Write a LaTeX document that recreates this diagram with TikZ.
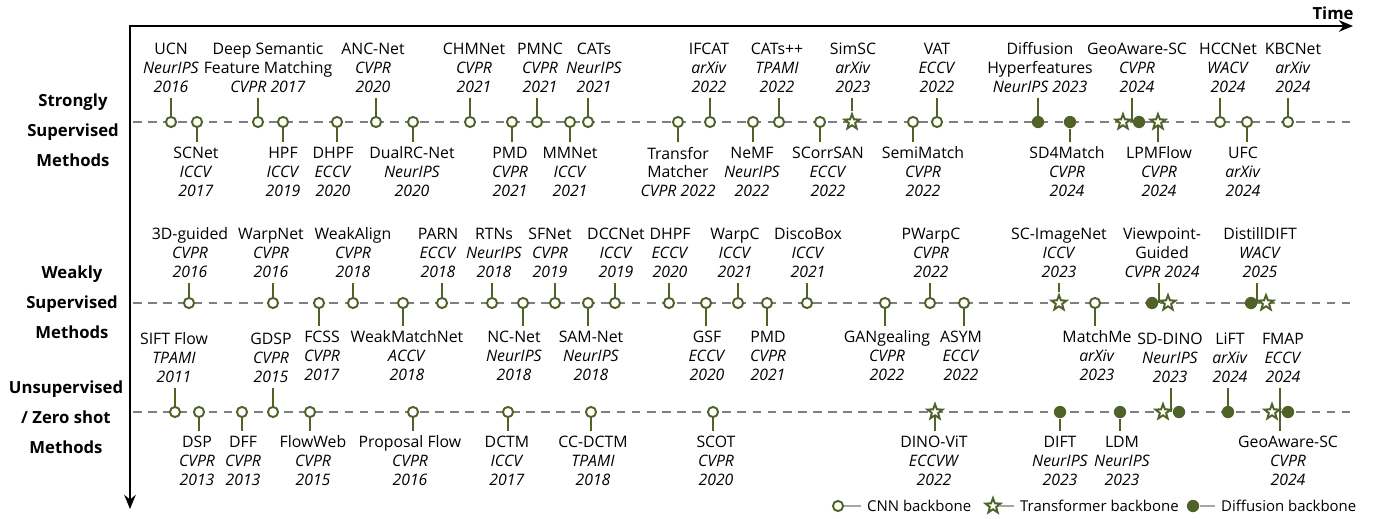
\documentclass[tikz,border=0pt]{standalone}
\usepackage{fontspec}
\setmainfont{Open Sans}
\usepackage{tikz}
\usetikzlibrary{shapes.geometric,arrows.meta,backgrounds}
\definecolor{mkgreen}{HTML}{4F6228}
\definecolor{dashgray}{HTML}{7F7F7F}
\definecolor{leggray}{HTML}{A6A6A6}
\newcommand{\lblfont}{\fontsize{9}{10.8}\selectfont}

\begin{document}
\begin{tikzpicture}[x=0.02cm, y=-0.02cm, >={Stealth[length=8pt,width=6.5pt]},
  timeaxis/.style={line width=1.6pt},
  rowline/.style={dashgray, line width=1.1pt, dash pattern=on 5pt off 3.6pt},
  stem/.style={mkgreen, line width=1.1pt},
  cnnmark/.style={circle, draw=mkgreen, fill=white, line width=1.1pt, inner sep=0pt, minimum size=5.8pt},
  diffmark/.style={circle, fill=mkgreen, inner sep=0pt, minimum size=7pt},
  transmark/.style={star, star points=5, star point ratio=2.4, draw=mkgreen, fill=white, line width=1.1pt, inner sep=0pt, minimum size=9pt},
  tlbl/.style={anchor=south, align=center, inner sep=0pt, outer sep=2.8pt, font=\lblfont},
  blbl/.style={anchor=north, align=center, inner sep=0pt, outer sep=2.8pt, font=\lblfont},
  rowlbl/.style={align=center, font=\bfseries\fontsize{9.5}{17}\selectfont},
  legline/.style={leggray, line width=1.1pt},
  legtxt/.style={anchor=west, font=\fontsize{8.5}{10}\selectfont}]
  \useasboundingbox (0,0) rectangle (1380,518);

  % Axes
  \coordinate (origin) at (130,26);
  \coordinate (tend) at (1353,26);
  \coordinate (vend) at (130,509);
  \draw[timeaxis, <->] (tend) -- (origin) -- (vend);
  \node[font=\bfseries\fontsize{9.5}{11}\selectfont] (time) at (1333,13) {Time};

  \node[rowlbl] (r1lbl) at (73,130) {Strongly\\Supervised\\Methods};
  \node[rowlbl] (r2lbl) at (72,302) {Weakly\\Supervised\\Methods};
  \node[rowlbl] (r3lbl) at (66,417) {Unsupervised\\/ Zero shot\\Methods};

  \coordinate (r1a) at (133,122); \coordinate (r1b) at (1350,122);
  \coordinate (r2a) at (133,303); \coordinate (r2b) at (1350,303);
  \coordinate (r3a) at (133,412); \coordinate (r3b) at (1350,412);

  % Strongly supervised, above the line
  \node[cnnmark] (ucn) at (171,122) {};
  \node[tlbl] (ucn-l) at (171,98) {UCN\\\textit{NeurIPS}\\\textit{2016}};
  \node[cnnmark] (dsfm) at (258,122) {};
  \node[tlbl] (dsfm-l) at (268,98) {Deep Semantic\\Feature Matching\\\textit{CVPR 2017}};
  \node[cnnmark] (ancnet) at (376,122) {};
  \node[tlbl] (ancnet-l) at (373,98) {ANC-Net\\\textit{CVPR}\\\textit{2020}};
  \node[cnnmark] (chmnet) at (470,122) {};
  \node[tlbl] (chmnet-l) at (474,98) {CHMNet\\\textit{CVPR}\\\textit{2021}};
  \node[cnnmark] (pmnc) at (537,122) {};
  \node[tlbl] (pmnc-l) at (540,98) {PMNC\\\textit{CVPR}\\\textit{2021}};
  \node[cnnmark] (cats) at (588,122) {};
  \node[tlbl] (cats-l) at (594,98) {CATs\\\textit{NeurIPS}\\\textit{2021}};
  \node[cnnmark] (ifcat) at (710,122) {};
  \node[tlbl] (ifcat-l) at (709,98) {IFCAT\\\textit{arXiv}\\\textit{2022}};
  \node[cnnmark] (catspp) at (779,122) {};
  \node[tlbl] (catspp-l) at (777,98) {CATs++\\\textit{TPAMI}\\\textit{2022}};
  \node[transmark] (simsc) at (852,122) {};
  \node[tlbl] (simsc-l) at (853,98) {SimSC\\\textit{arXiv}\\\textit{2023}};
  \node[cnnmark] (vat) at (937,122) {};
  \node[tlbl] (vat-l) at (937,98) {VAT\\\textit{ECCV}\\\textit{2022}};
  \node[diffmark] (diffhf) at (1038,122) {};
  \node[tlbl] (diffhf-l) at (1040,98) {Diffusion\\Hyperfeatures\\\textit{NeurIPS 2023}};
  \coordinate (geo) at (1132,122);
  \node[transmark] (geo-s) at (1123,122) {};
  \node[diffmark] (geo-d) at (1139,122) {};
  \node[tlbl] (geo-l) at (1137,98) {GeoAware-SC\\\textit{CVPR}\\\textit{2024}};
  \node[cnnmark] (hccnet) at (1220,122) {};
  \node[tlbl] (hccnet-l) at (1228,98) {HCCNet\\\textit{WACV}\\\textit{2024}};
  \node[cnnmark] (kbcnet) at (1288,122) {};
  \node[tlbl] (kbcnet-l) at (1293,98) {KBCNet\\\textit{arXiv}\\\textit{2024}};

  % Strongly supervised, below the line
  \node[cnnmark] (scnet) at (197,122) {};
  \node[blbl] (scnet-l) at (196,142) {SCNet\\\textit{ICCV}\\\textit{2017}};
  \node[cnnmark] (hpf) at (283,122) {};
  \node[blbl] (hpf-l) at (283,142) {HPF\\\textit{ICCV}\\\textit{2019}};
  \node[cnnmark] (dhpf) at (337,122) {};
  \node[blbl] (dhpf-l) at (333,142) {DHPF\\\textit{ECCV}\\\textit{2020}};
  \node[cnnmark] (dualrc) at (413,122) {};
  \node[blbl] (dualrc-l) at (412,142) {DualRC-Net\\\textit{NeurIPS}\\\textit{2020}};
  \node[cnnmark] (pmd) at (512,122) {};
  \node[blbl] (pmd-l) at (510,142) {PMD\\\textit{CVPR}\\\textit{2021}};
  \node[cnnmark] (mmnet) at (570,122) {};
  \node[blbl] (mmnet-l) at (570,142) {MMNet\\\textit{ICCV}\\\textit{2021}};
  \node[cnnmark] (transm) at (678,122) {};
  \node[blbl] (transm-l) at (678,142) {Transfor\\Matcher\\\textit{CVPR 2022}};
  \node[cnnmark] (nemf) at (753,122) {};
  \node[blbl] (nemf-l) at (752,142) {NeMF\\\textit{NeurIPS}\\\textit{2022}};
  \node[cnnmark] (scorrsan) at (820,122) {};
  \node[blbl] (scorrsan-l) at (828,142) {SCorrSAN\\\textit{ECCV}\\\textit{2022}};
  \node[cnnmark] (semimatch) at (913,122) {};
  \node[blbl] (semimatch-l) at (923,142) {SemiMatch\\\textit{CVPR}\\\textit{2022}};
  \node[diffmark] (sdmatch) at (1070,122) {};
  \node[blbl] (sdmatch-l) at (1067,142) {SD4Match\\\textit{CVPR}\\\textit{2024}};
  \node[transmark] (lpmflow) at (1158,122) {};
  \node[blbl] (lpmflow-l) at (1159,142) {LPMFlow\\\textit{CVPR}\\\textit{2024}};
  \node[cnnmark] (ufc) at (1247,122) {};
  \node[blbl] (ufc-l) at (1243,142) {UFC\\\textit{arXiv}\\\textit{2024}};

  % Weakly supervised, above the line
  \node[cnnmark] (guided) at (189,303) {};
  \node[tlbl] (guided-l) at (190,283) {3D-guided\\\textit{CVPR}\\\textit{2016}};
  \node[cnnmark] (warpnet) at (273,303) {};
  \node[tlbl] (warpnet-l) at (271,283) {WarpNet\\\textit{CVPR}\\\textit{2016}};
  \node[cnnmark] (weakalign) at (353,303) {};
  \node[tlbl] (weakalign-l) at (353,283) {WeakAlign\\\textit{CVPR}\\\textit{2018}};
  \node[cnnmark] (parn) at (442,303) {};
  \node[tlbl] (parn-l) at (438,283) {PARN\\\textit{ECCV}\\\textit{2018}};
  \node[cnnmark] (rtns) at (492,303) {};
  \node[tlbl] (rtns-l) at (494,283) {RTNs\\\textit{NeurIPS}\\\textit{2018}};
  \node[cnnmark] (sfnet) at (555,303) {};
  \node[tlbl] (sfnet-l) at (550,283) {SFNet\\\textit{CVPR}\\\textit{2019}};
  \node[cnnmark] (dccnet) at (615,303) {};
  \node[tlbl] (dccnet-l) at (616,283) {DCCNet\\\textit{ICCV}\\\textit{2019}};
  \node[cnnmark] (dhpfw) at (669,303) {};
  \node[tlbl] (dhpfw-l) at (670,283) {DHPF\\\textit{ECCV}\\\textit{2020}};
  \node[cnnmark] (warpc) at (738,303) {};
  \node[tlbl] (warpc-l) at (735,283) {WarpC\\\textit{ICCV}\\\textit{2021}};
  \node[cnnmark] (discobox) at (807,303) {};
  \node[tlbl] (discobox-l) at (808,283) {DiscoBox\\\textit{ICCV}\\\textit{2021}};
  \node[cnnmark] (pwarpc) at (930,303) {};
  \node[tlbl] (pwarpc-l) at (931,283) {PWarpC\\\textit{CVPR}\\\textit{2022}};
  \node[transmark] (scimg) at (1059,303) {};
  \node[tlbl] (scimg-l) at (1059,283) {SC-ImageNet\\\textit{ICCV}\\\textit{2023}};
  \coordinate (viewpt) at (1159,303);
  \node[diffmark] (viewpt-d) at (1152,303) {};
  \node[transmark] (viewpt-s) at (1168,303) {};
  \node[tlbl] (viewpt-l) at (1162,283) {Viewpoint-\\Guided\\\textit{CVPR 2024}};
  \coordinate (distill) at (1257,303);
  \node[diffmark] (distill-d) at (1251,303) {};
  \node[transmark] (distill-s) at (1266,303) {};
  \node[tlbl] (distill-l) at (1260,283) {DistillDIFT\\\textit{WACV}\\\textit{2025}};

  % Weakly supervised, below the line
  \node[cnnmark] (fcss) at (319,303) {};
  \node[blbl] (fcss-l) at (322,326) {FCSS\\\textit{CVPR}\\\textit{2017}};
  \node[cnnmark] (weakmatch) at (403,303) {};
  \node[blbl] (weakmatch-l) at (407,326) {WeakMatchNet\\\textit{ACCV}\\\textit{2018}};
  \node[cnnmark] (ncnet) at (523,303) {};
  \node[blbl] (ncnet-l) at (514,326) {NC-Net\\\textit{NeurIPS}\\\textit{2018}};
  \node[cnnmark] (samnet) at (588,303) {};
  \node[blbl] (samnet-l) at (591,326) {SAM-Net\\\textit{NeurIPS}\\\textit{2018}};
  \node[cnnmark] (gsf) at (706,303) {};
  \node[blbl] (gsf-l) at (707,326) {GSF\\\textit{ECCV}\\\textit{2020}};
  \node[cnnmark] (pmdw) at (767,303) {};
  \node[blbl] (pmdw-l) at (768,326) {PMD\\\textit{CVPR}\\\textit{2021}};
  \node[cnnmark] (gangeal) at (885,303) {};
  \node[blbl] (gangeal-l) at (887,326) {GANgealing\\\textit{CVPR}\\\textit{2022}};
  \node[cnnmark] (asym) at (964,303) {};
  \node[blbl] (asym-l) at (961,326) {ASYM\\\textit{ECCV}\\\textit{2022}};
  \node[cnnmark] (matchme) at (1095,303) {};
  \node[blbl] (matchme-l) at (1097,326) {MatchMe\\\textit{arXiv}\\\textit{2023}};

  % Unsupervised / zero shot, above the line
  \node[cnnmark] (siftflow) at (175,412) {};
  \node[tlbl] (siftflow-l) at (174,388) {SIFT Flow\\\textit{TPAMI}\\\textit{2011}};
  \node[cnnmark] (gdsp) at (273,412) {};
  \node[tlbl] (gdsp-l) at (271,388) {GDSP\\\textit{CVPR}\\\textit{2015}};
  \coordinate (sddino) at (1171,412);
  \node[transmark] (sddino-s) at (1163,412) {};
  \node[diffmark] (sddino-d) at (1179,412) {};
  \node[tlbl] (sddino-l) at (1170,388) {SD-DINO\\\textit{NeurIPS}\\\textit{2023}};
  \node[diffmark] (lift) at (1228,412) {};
  \node[tlbl] (lift-l) at (1230,388) {LiFT\\\textit{arXiv}\\\textit{2024}};
  \coordinate (fmap) at (1280,412);
  \node[transmark] (fmap-s) at (1272,412) {};
  \node[diffmark] (fmap-d) at (1288,412) {};
  \node[tlbl] (fmap-l) at (1283,388) {FMAP\\\textit{ECCV}\\\textit{2024}};

  % Unsupervised / zero shot, below the line
  \node[cnnmark] (dsp) at (199,412) {};
  \node[blbl] (dsp-l) at (197,431) {DSP\\\textit{CVPR}\\\textit{2013}};
  \node[cnnmark] (dff) at (242,412) {};
  \node[blbl] (dff-l) at (243,431) {DFF\\\textit{CVPR}\\\textit{2013}};
  \node[cnnmark] (flowweb) at (310,412) {};
  \node[blbl] (flowweb-l) at (313,431) {FlowWeb\\\textit{CVPR}\\\textit{2015}};
  \node[cnnmark] (propflow) at (413,412) {};
  \node[blbl] (propflow-l) at (410,431) {Proposal Flow\\\textit{CVPR}\\\textit{2016}};
  \node[cnnmark] (dctm) at (508,412) {};
  \node[blbl] (dctm-l) at (507,431) {DCTM\\\textit{ICCV}\\\textit{2017}};
  \node[cnnmark] (ccdctm) at (591,412) {};
  \node[blbl] (ccdctm-l) at (593,431) {CC-DCTM\\\textit{TPAMI}\\\textit{2018}};
  \node[cnnmark] (scot) at (713,412) {};
  \node[blbl] (scot-l) at (716,431) {SCOT\\\textit{CVPR}\\\textit{2020}};
  \node[transmark] (dinovit) at (935,412) {};
  \node[blbl] (dinovit-l) at (934,431) {DINO-ViT\\\textit{ECCVW}\\\textit{2022}};
  \node[diffmark] (dift) at (1060,412) {};
  \node[blbl] (dift-l) at (1060,431) {DIFT\\\textit{NeurIPS}\\\textit{2023}};
  \node[diffmark] (ldm) at (1120,412) {};
  \node[blbl] (ldm-l) at (1122,431) {LDM\\\textit{NeurIPS}\\\textit{2023}};
  \coordinate (geoz) at (1280,412);
  \node[blbl] (geoz-l) at (1288,431) {GeoAware-SC\\\textit{CVPR}\\\textit{2024}};

  % Legend
  \node[cnnmark] (lgcnn) at (838,506) {};
  \node[legtxt] (lgcnn-l) at (861,506) {CNN backbone};
  \node[transmark] (lgtrans) at (993,506) {};
  \node[legtxt] (lgtrans-l) at (1014,506) {Transformer backbone};
  \node[diffmark] (lgdiff) at (1193,506) {};
  \node[legtxt] (lgdiff-l) at (1215,506) {Diffusion backbone};
  \draw[legline] (lgcnn) -- (lgcnn-l);
  \draw[legline] (lgtrans) -- (lgtrans-l);
  \draw[legline] (lgdiff) -- (lgdiff-l);

  \begin{scope}[on background layer]
    \draw[rowline] (r1a) -- (r1b);
    \draw[rowline] (r2a) -- (r2b);
    \draw[rowline] (r3a) -- (r3b);
    \foreach \n in {ucn,dsfm,ancnet,chmnet,pmnc,cats,ifcat,catspp,simsc,vat,diffhf,geo,hccnet,kbcnet,
                    guided,warpnet,weakalign,parn,rtns,sfnet,dccnet,dhpfw,warpc,discobox,pwarpc,scimg,viewpt,distill,
                    siftflow,gdsp,sddino,lift,fmap}
      \draw[stem] (\n) -- (\n |- \n-l.south);
    \foreach \n in {scnet,hpf,dhpf,dualrc,pmd,mmnet,transm,nemf,scorrsan,semimatch,sdmatch,lpmflow,ufc,
                    fcss,weakmatch,ncnet,samnet,gsf,pmdw,gangeal,asym,matchme,
                    dsp,dff,flowweb,propflow,dctm,ccdctm,scot,dinovit,dift,ldm,geoz}
      \draw[stem] (\n) -- (\n |- \n-l.north);
  \end{scope}
\end{tikzpicture}
\end{document}
